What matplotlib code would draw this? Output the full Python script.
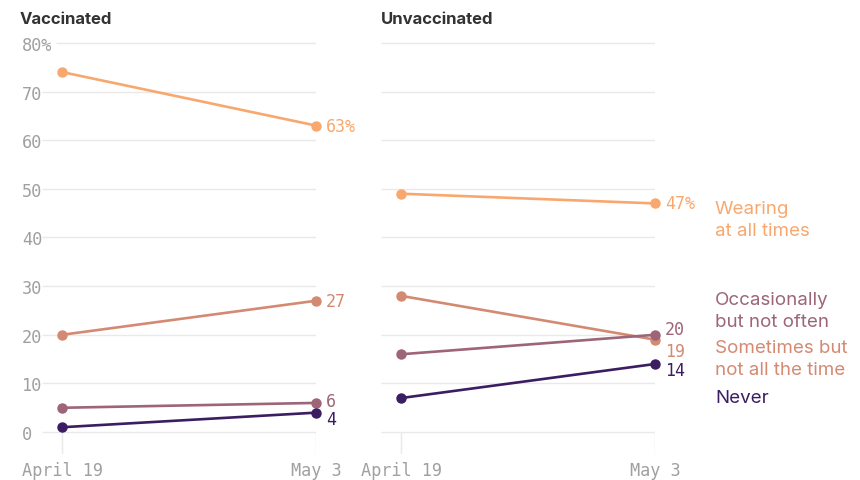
import matplotlib.pyplot as plt
from matplotlib.transforms import blended_transform_factory

# data
dates = ["April 19", "May 3"]
categories = ["Wearing\nat all times", "Occasionally\nbut not often",
              "Sometimes but\nnot all the time", "Never"]
vaccinated = {
    "Wearing": [74, 63],
    "Sometimes": [20, 27],
    "Occasionally": [5, 6],
    "Never": [1, 4],
}
unvaccinated = {
    "Wearing": [49, 47],
    "Sometimes": [28, 19],
    "Occasionally": [16, 20],
    "Never": [7, 14],
}
yticks = [0, 10, 20, 30, 40, 50, 60, 70, 80]
ytick_labels = ["0", "10", "20", "30", "40", "50", "60", "70", "80%"]

colors = {
    "Wearing": "#f8a86e",
    "Sometimes": "#d48a72",
    "Occasionally": "#9d6577",
    "Never": "#3b1d62",
}
MONO = "DejaVu Sans Mono"
SANS = "Inter"

# nudges for the end labels (points) so they don't collide
vax_nudge = {"Wearing": 0, "Sometimes": 0, "Occasionally": 1.5, "Never": -4.5}
unvax_nudge = {"Wearing": 0, "Sometimes": -8, "Occasionally": 4, "Never": -4}

fig = plt.figure(figsize=(8.6, 4.81), dpi=100)
W, H = 860, 481
ax_l = fig.add_axes([42 / W, 26 / H, 274 / W, 416 / H])
ax_r = fig.add_axes([381 / W, 26 / H, 274 / W, 416 / H])


def draw_panel(ax, data, nudges, show_y):
    x = list(range(len(dates)))
    ax.set_xlim(-0.079, 1)
    ax.set_ylim(-4.5, 81)
    for s in ax.spines.values():
        s.set_visible(False)
    # gridlines
    for t in yticks:
        start = -0.024 if (t == 80 and show_y) else -0.079
        ax.hlines(t, start, 1, color="#e9e9e9", lw=1, zorder=0)
    ax.vlines(x, -4.5, 0, color="#e9e9e9", lw=1, zorder=0)

    for key, vals in data.items():
        ax.plot(x, vals, color=colors[key], lw=1.9, marker="o", ms=6.5,
                clip_on=False, zorder=3)
        last = vals[-1]
        lbl = f"{last}%" if key == "Wearing" else str(last)
        ax.annotate(lbl, (x[-1], last), xytext=(7, nudges[key]),
                    textcoords="offset points", ha="left", va="center",
                    color=colors[key], fontsize=12, family=MONO,
                    annotation_clip=False)

    ax.set_xticks(x)
    ax.set_xticklabels(dates, family=MONO, fontsize=12.2, color="#a0a0a0")
    ax.tick_params(axis="x", length=0, pad=5)
    ax.set_yticks(yticks)
    if show_y:
        ax.set_yticklabels(ytick_labels, family=MONO, fontsize=12.2,
                           color="#a0a0a0")
        for lab in ax.get_yticklabels():
            lab.set_ha("left")
        ax.tick_params(axis="y", length=0, pad=14.4)
    else:
        ax.tick_params(axis="y", length=0, labelleft=False)


draw_panel(ax_l, vaccinated, vax_nudge, True)
draw_panel(ax_r, unvaccinated, unvax_nudge, False)

fig.text(20 / W, 1 - 19 / H, "Vaccinated", family=SANS, fontweight="bold",
         fontsize=12, color="#333333", va="center", ha="left")
fig.text(381 / W, 1 - 19 / H, "Unvaccinated", family=SANS, fontweight="bold",
         fontsize=12, color="#333333", va="center", ha="left")

# category labels to the right of the unvaccinated panel
label_keys = ["Wearing", "Occasionally", "Sometimes", "Never"]
label_y = [43.6, 25.0, 15.1, 7.2]
tr = blended_transform_factory(fig.transFigure, ax_r.transData)
for key, name, ly in zip(label_keys, categories, label_y):
    ax_r.text(715 / W, ly, name, transform=tr, family=SANS, fontsize=13.5,
              color=colors[key], ha="left", va="center", linespacing=1.38,
              clip_on=False)

fig.savefig("out.png", dpi=100)
